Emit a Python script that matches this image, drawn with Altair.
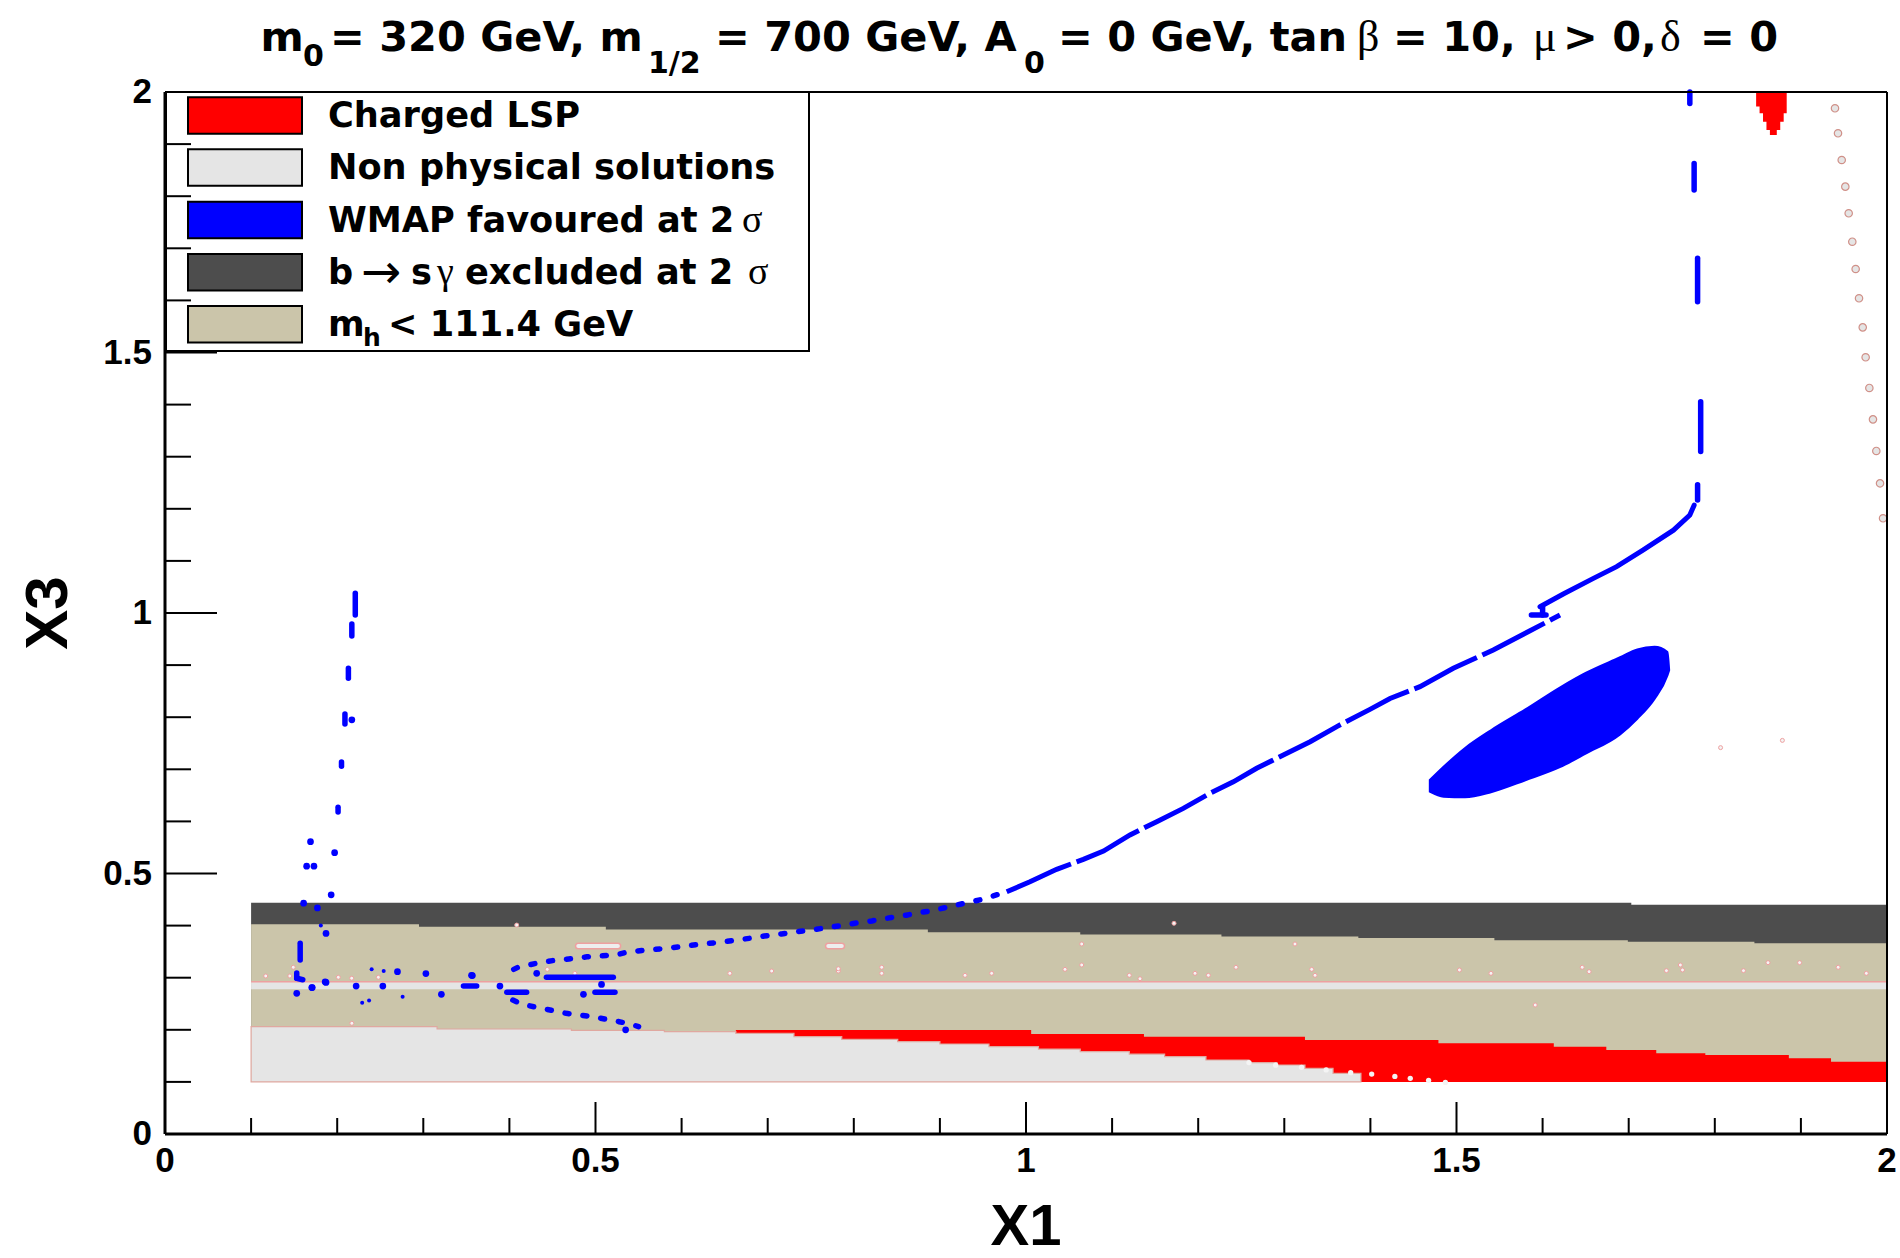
import altair as alt
import pandas as pd

# ---------------- values ----------------
# b -> s gamma excluded band (dark grey): upper edge, step function of X1
bsg_x = [0.1, 1.703, 2.0]
bsg_top = [0.444, 0.440, 0.440]

# m_h < 111.4 GeV band (tan): upper edge
mh_x = [0.1, 0.295, 0.512, 0.886, 1.063, 1.227, 1.386, 1.544, 1.699, 1.846, 2.0]
mh_top = [0.4025, 0.398, 0.3925, 0.387, 0.383, 0.379, 0.376, 0.372, 0.369, 0.366, 0.366]

# lower edge of the tan band (top of charged-LSP / non-physical regions)
low_x = [0.1, 0.316, 0.472, 0.58, 0.663, 1.006, 1.137, 1.324, 1.479, 1.613, 1.674,
         1.732, 1.789, 1.886, 1.935, 2.0]
low_top = [0.206, 0.2015, 0.199, 0.1965, 0.1996, 0.1919, 0.1868, 0.1804, 0.174, 0.1676,
           0.1612, 0.1548, 0.1516, 0.1452, 0.1389, 0.1389]

# non-physical region at the bottom: upper edge
np_x = [0.1, 0.316, 0.472, 0.58, 0.663, 0.7305, 0.786, 0.851, 0.9, 0.957, 1.0145, 1.063,
        1.12, 1.161, 1.209, 1.259, 1.2915, 1.324, 1.3566, 1.389]
np_top = [0.206, 0.2015, 0.199, 0.1965, 0.193, 0.1868, 0.1817, 0.1772, 0.1727, 0.1676,
          0.163, 0.158, 0.1535, 0.1484, 0.142, 0.1369, 0.1324, 0.126, 0.1164, 0.1]

# thin non-physical strip inside the tan band
strip_x = [0.1, 2.0]
strip_lo = [0.2777, 0.2777]
strip_hi = [0.2924, 0.2924]

# charged LSP island at the top
lsp_x = [1.848, 1.852, 1.856, 1.860, 1.864, 1.872, 1.876, 1.880, 1.8835]
lsp_bottom = [1.972, 1.959, 1.943, 1.927, 1.9175, 1.927, 1.943, 1.959, 1.959]

# WMAP: dotted part of the main branch
wA_x = [0.405, 0.41, 0.421, 0.435, 0.451, 0.469, 0.49, 0.525, 0.534, 0.557, 0.581, 0.601,
        0.625, 0.645, 0.662, 0.681, 0.696, 0.716, 0.733, 0.753, 0.768, 0.785, 0.801, 0.821,
        0.847, 0.861, 0.877, 0.89, 0.9195, 0.9505, 0.9776]
wA_y = [0.316, 0.32, 0.324, 0.329, 0.333, 0.336, 0.34, 0.344, 0.348, 0.353, 0.356, 0.36,
        0.365, 0.368, 0.372, 0.376, 0.38, 0.384, 0.388, 0.392, 0.396, 0.40, 0.4045, 0.409,
        0.4165, 0.42, 0.425, 0.4285, 0.4395, 0.451, 0.465]
# WMAP: near-continuous part of the main branch
wB_x = [0.9776, 1.0046, 1.0356, 1.0666, 1.09, 1.1208, 1.1518, 1.1827, 1.2137, 1.2408,
        1.2679, 1.2989, 1.33, 1.361, 1.3995, 1.4228, 1.4576, 1.4963, 1.5427, 1.5854, 1.6202]
wB_y = [0.465, 0.484, 0.508, 0.527, 0.543, 0.574, 0.5995, 0.625, 0.654, 0.676, 0.702,
        0.7275, 0.753, 0.782, 0.815, 0.836, 0.8586, 0.8938, 0.929, 0.966, 0.996]
# WMAP: upper part after the hook
wC_x = [1.597, 1.624, 1.659, 1.686, 1.717, 1.752, 1.771, 1.776]
wC_y = [1.012, 1.0365, 1.0665, 1.089, 1.121, 1.159, 1.188, 1.207]
# WMAP: lower branch on the left
wD_x = [0.404, 0.414, 0.4375, 0.453, 0.466, 0.4815, 0.497, 0.5127, 0.5273, 0.5412, 0.55]
wD_y = [0.257, 0.2495, 0.241, 0.236, 0.2316, 0.2284, 0.2252, 0.22, 0.2156, 0.211, 0.206]
# WMAP: short dashes (start / end)
dash_x1 = [0.221, 0.217, 0.213, 0.209, 0.205, 0.201, 0.157, 0.153, 0.153,
           1.771, 1.776, 1.780, 1.7836, 1.780,
           0.443, 0.4994, 0.397, 0.3466, 1.587, 1.600]
dash_y1 = [0.996, 0.956, 0.875, 0.787, 0.706, 0.618, 0.334, 0.299, 0.299,
           1.978, 1.812, 1.5975, 1.310, 1.217,
           0.3008, 0.272, 0.272, 0.284, 0.996, 0.996]
dash_x2 = [0.221, 0.217, 0.213, 0.209, 0.205, 0.201, 0.157, 0.153, 0.160,
           1.771, 1.776, 1.780, 1.7836, 1.780,
           0.5207, 0.5226, 0.420, 0.362, 1.604, 1.600]
dash_y2 = [1.038, 0.979, 0.894, 0.806, 0.714, 0.627, 0.366, 0.309, 0.296,
           2.0, 1.863, 1.681, 1.4056, 1.246,
           0.3008, 0.272, 0.272, 0.284, 0.996, 1.012]
# WMAP: isolated blobs
blob_x = [0.217, 0.197, 0.169, 0.1645, 0.173, 0.193, 0.161, 0.177, 0.187, 0.171, 0.187,
          0.153, 0.1705, 0.186, 0.222, 0.253, 0.27, 0.303, 0.357, 0.321, 0.389, 0.486,
          0.507, 0.4317, 0.535, 0.356]
blob_y = [0.795, 0.54, 0.561, 0.514, 0.514, 0.459, 0.443, 0.434, 0.385, 0.281, 0.291,
          0.27, 0.281, 0.292, 0.284, 0.284, 0.3115, 0.308, 0.304, 0.268, 0.284, 0.268,
          0.287, 0.3084, 0.2, 0.3046]
small_x = [0.24, 0.254, 0.237, 0.229, 0.276, 0.181]
small_y = [0.316, 0.313, 0.256, 0.252, 0.2636, 0.40]
# WMAP: bulk region (lower / upper edge)
ell_x = [1.469, 1.485, 1.51, 1.54, 1.58, 1.62, 1.65, 1.69, 1.71, 1.73, 1.745, 1.747]
ell_lo = [0.657, 0.6475, 0.6465, 0.656, 0.679, 0.704, 0.73, 0.767, 0.797, 0.835, 0.88, 0.89]
ell_hi = [0.6795, 0.705, 0.741, 0.775, 0.815, 0.857, 0.885, 0.915, 0.93, 0.935, 0.925, 0.89]

# small non-physical islands near the right edge
np_dot_x = [1.9396, 1.9431, 1.9474, 1.9516, 1.9555, 1.9597, 1.9636, 1.9675, 1.9718,
            1.9752, 1.9795, 1.9837, 1.9876, 1.9919, 1.9954]
np_dot_y = [1.9687, 1.9207, 1.8695, 1.8183, 1.7672, 1.7127, 1.6603, 1.604, 1.5483,
            1.4908, 1.4319, 1.3717, 1.311, 1.2489, 1.1818]
# tiny specks
speck_x = [0.8324, 0.8324, 1.0647, 1.0647, 1.0453, 1.1719, 1.1963, 1.2118, 1.2439, 1.3124,
           1.3318, 1.3357, 0.9292, 0.9601, 1.12, 1.1324, 1.76, 1.7625, 1.8618, 1.8985,
           1.9433, 1.976, 1.8333, 1.646, 1.654, 1.7438, 1.5034, 1.54, 1.5914, 0.4085,
           0.444, 0.476, 0.656, 0.7046, 0.782, 0.782, 0.149, 0.117, 0.145, 0.2013,
           0.2168, 0.2478, 0.217, 1.8067, 1.8785]
speck_y = [0.32, 0.3084, 0.3647, 0.3244, 0.316, 0.4044, 0.3084, 0.3046, 0.32, 0.3647,
           0.316, 0.3046, 0.3046, 0.3084, 0.3046, 0.298, 0.3244, 0.3148, 0.3289, 0.3289,
           0.32, 0.3084, 0.3135, 0.32, 0.3116, 0.3135, 0.3148, 0.3084, 0.2476, 0.401,
           0.316, 0.3084, 0.3084, 0.3128, 0.3128, 0.3172, 0.32, 0.3033, 0.3033, 0.3008,
           0.299, 0.3008, 0.2125, 0.7416, 0.7555]
# small non-physical bars
bar_x1 = [0.48, 0.7704]
bar_x2 = [0.526, 0.786]
bar_y = [0.361, 0.361]
# white dots along the non-physical / charged-LSP border
wdot_x = [1.259, 1.290, 1.320, 1.3486, 1.3771, 1.4015, 1.4284, 1.4463, 1.4676, 1.4871]
wdot_y = [0.137, 0.132, 0.128, 0.123, 0.1177, 0.115, 0.1106, 0.1068, 0.103, 0.099]

# axis ticks and labels
x_major = [0, 0.5, 1, 1.5, 2]
x_labels = ["0", "0.5", "1", "1.5", "2"]
x_minor = [0.1, 0.2, 0.3, 0.4, 0.6, 0.7, 0.8, 0.9, 1.1, 1.2, 1.3, 1.4, 1.6, 1.7, 1.8, 1.9]
y_major = [0, 0.5, 1, 1.5, 2]
y_labels = ["0", "0.5", "1", "1.5", "2"]
y_minor = [0.1, 0.2, 0.3, 0.4, 0.6, 0.7, 0.8, 0.9, 1.1, 1.2, 1.3, 1.4, 1.6, 1.7, 1.8, 1.9]
x_title = "X1"
y_title = "X3"

legend_labels = ["Charged LSP", "Non physical solutions", "WMAP favoured at 2 σ",
                 "b → s γ excluded at 2 σ", "m_h < 111.4 GeV"]

# ---------------- styling ----------------
RED = "#ff0000"
LGREY = "#e5e5e5"
BLUE = "#0000ff"
DGREY = "#4d4d4d"
TAN = "#cbc5aa"
PINK = "#eea0a0"
legend_colors = [RED, LGREY, BLUE, DGREY, TAN]

W, H = 1722, 1042
SANS = "DejaVu Sans"
ARIAL = "Liberation Sans"
SERIF = "Liberation Serif"

xs = alt.Scale(domain=[0, 2], nice=False, zero=False)
ys = alt.Scale(domain=[0, 2], nice=False, zero=False)


def X(field="x"):
    return alt.X(f"{field}:Q", scale=xs, axis=None)


def Y(field="y"):
    return alt.Y(f"{field}:Q", scale=ys, axis=None)


layers = []

bsg_df = pd.DataFrame({"x": bsg_x, "top": bsg_top, "base": [0.1] * len(bsg_x)})
layers.append(alt.Chart(bsg_df).mark_area(interpolate="step-after", color=DGREY).encode(
    x=X(), y=Y("top"), y2="base:Q"))

mh_df = pd.DataFrame({"x": mh_x, "top": mh_top, "base": [0.1] * len(mh_x)})
layers.append(alt.Chart(mh_df).mark_area(interpolate="step-after", color=TAN).encode(
    x=X(), y=Y("top"), y2="base:Q"))

red_df = pd.DataFrame({"x": low_x[4:], "top": low_top[4:], "base": [0.1] * len(low_x[4:])})
layers.append(alt.Chart(red_df).mark_area(interpolate="step-after", color=RED).encode(
    x=X(), y=Y("top"), y2="base:Q"))

np_df = pd.DataFrame({"x": np_x, "top": np_top, "base": [0.1] * len(np_x)})
layers.append(alt.Chart(np_df).mark_area(interpolate="step-after", color=LGREY,
                                         stroke="#e0a8a0", strokeWidth=1.2).encode(
    x=X(), y=Y("top"), y2="base:Q"))

strip_df = pd.DataFrame({"x": strip_x, "lo": strip_lo, "hi": strip_hi})
layers.append(alt.Chart(strip_df).mark_area(color=LGREY).encode(
    x=X(), y=Y("lo"), y2="hi:Q"))
layers.append(alt.Chart(strip_df).mark_line(color=PINK, strokeWidth=1.5).encode(
    x=X(), y=Y("hi")))

bar_df = pd.DataFrame({"x": bar_x1, "x2": bar_x2, "y": bar_y})
layers.append(alt.Chart(bar_df).mark_rule(color=PINK, strokeWidth=7, strokeCap="round").encode(
    x=X(), x2="x2:Q", y=Y()))
layers.append(alt.Chart(bar_df).mark_rule(color="#eeeeee", strokeWidth=4, strokeCap="round").encode(
    x=X(), x2="x2:Q", y=Y()))

speck_df = pd.DataFrame({"x": speck_x, "y": speck_y})
layers.append(alt.Chart(speck_df).mark_point(shape="circle", filled=True, fill="#f4f4f4",
                                             stroke=PINK, strokeWidth=1, size=16, opacity=1).encode(
    x=X(), y=Y()))

wdot_df = pd.DataFrame({"x": wdot_x, "y": wdot_y})
layers.append(alt.Chart(wdot_df).mark_point(shape="circle", filled=True, color="#f4f4f4",
                                            size=28, opacity=1).encode(x=X(), y=Y()))

npd_df = pd.DataFrame({"x": np_dot_x, "y": np_dot_y})
layers.append(alt.Chart(npd_df).mark_point(shape="circle", filled=True, fill=LGREY,
                                           stroke="#d09088", strokeWidth=1.2, size=55,
                                           opacity=1).encode(x=X(), y=Y()))

lsp_df = pd.DataFrame({"x": lsp_x, "b": lsp_bottom, "top": [2.0] * len(lsp_x)})
layers.append(alt.Chart(lsp_df).mark_area(interpolate="step-after", color=RED).encode(
    x=X(), y=Y("b"), y2="top:Q"))

# WMAP
ell_df = pd.DataFrame({"x": ell_x, "lo": ell_lo, "hi": ell_hi})
layers.append(alt.Chart(ell_df).mark_area(interpolate="monotone", color=BLUE,
                                          stroke=BLUE, strokeWidth=2).encode(
    x=X(), y=Y("lo"), y2="hi:Q"))

for xv, yv, style in [(wA_x, wA_y, "dot"), (wD_x, wD_y, "dot"), (wB_x, wB_y, "solid"),
                      (wC_x, wC_y, "full")]:
    df = pd.DataFrame({"x": xv, "y": yv, "i": list(range(len(xv)))})
    if style == "dot":
        mk = alt.Chart(df).mark_line(color=BLUE, strokeWidth=5.5, strokeDash=[4, 14],
                                     strokeCap="round")
    elif style == "solid":
        mk = alt.Chart(df).mark_line(color=BLUE, strokeWidth=5, strokeDash=[70, 6])
    else:
        mk = alt.Chart(df).mark_line(color=BLUE, strokeWidth=5, strokeCap="round")
    layers.append(mk.encode(x=X(), y=Y(), order="i:Q"))

dash_df = pd.DataFrame({"x": dash_x1, "y": dash_y1, "x2": dash_x2, "y2": dash_y2})
layers.append(alt.Chart(dash_df).mark_rule(color=BLUE, strokeWidth=5.5, strokeCap="round").encode(
    x=X(), y=Y(), x2="x2:Q", y2="y2:Q"))

blob_df = pd.DataFrame({"x": blob_x, "y": blob_y})
layers.append(alt.Chart(blob_df).mark_point(shape="circle", filled=True, color=BLUE,
                                            size=45, opacity=1).encode(x=X(), y=Y()))
small_df = pd.DataFrame({"x": small_x, "y": small_y})
layers.append(alt.Chart(small_df).mark_point(shape="circle", filled=True, color=BLUE,
                                             size=16, opacity=1).encode(x=X(), y=Y()))

one = pd.DataFrame({"k": [0]})


def txt(s, x, y, size, font=SANS, weight="bold", align="left", baseline="alphabetic", angle=0):
    return alt.Chart(one).mark_text(text=s, align=align, baseline=baseline, font=font,
                                    fontSize=size, fontWeight=weight, color="black",
                                    angle=angle).encode(x=alt.value(x), y=alt.value(y))


# legend
layers.append(alt.Chart(one).mark_rect(fill="white", stroke="black", strokeWidth=2).encode(
    x=alt.value(1), x2=alt.value(644), y=alt.value(0), y2=alt.value(259)))
sw_top = [5.3, 57.3, 109.7, 162, 214]
base = [34.7, 87, 139.7, 192, 244]
for i, col in enumerate(legend_colors):
    layers.append(alt.Chart(one).mark_rect(fill=col, stroke="black", strokeWidth=2).encode(
        x=alt.value(23), x2=alt.value(137), y=alt.value(sw_top[i]), y2=alt.value(sw_top[i] + 36.5)))

LF = 35.2
layers.append(txt(legend_labels[0], 163, base[0], LF))
layers.append(txt(legend_labels[1], 163, base[1], LF))
layers.append(txt("WMAP favoured at 2", 163, base[2], LF))
layers.append(txt("σ", 577, base[2], 38, SERIF, "normal"))
layers.append(txt("b", 163, base[3], LF))
layers.append(txt("→", 196, base[3] + 4, 48, SANS, "normal"))
layers.append(txt("s", 246, base[3], LF))
layers.append(txt("γ", 272, base[3], 38, SERIF, "normal"))
layers.append(txt("excluded at 2", 300, base[3], LF))
layers.append(txt("σ", 583, base[3], 38, SERIF, "normal"))
layers.append(txt("m", 163, base[4], LF))
layers.append(txt("h", 198, base[4] + 10, 25))
layers.append(txt("< 111.4 GeV", 223, base[4], LF))

# axis lines, ticks (inward) and labels
layers.append(alt.Chart(one).mark_rule(color="black", strokeWidth=3).encode(
    x=alt.value(0), y=alt.value(0), y2=alt.value(H)))
layers.append(alt.Chart(one).mark_rule(color="black", strokeWidth=3).encode(
    x=alt.value(0), x2=alt.value(W), y=alt.value(H)))
layers.append(alt.Chart(one).mark_rule(color="black", strokeWidth=2).encode(
    x=alt.value(0), x2=alt.value(W), y=alt.value(0)))
layers.append(alt.Chart(one).mark_rule(color="black", strokeWidth=2).encode(
    x=alt.value(W), y=alt.value(0), y2=alt.value(H)))

for vals, L in [(x_major, 32), (x_minor, 16)]:
    df = pd.DataFrame({"v": vals})
    layers.append(alt.Chart(df).mark_rule(color="black", strokeWidth=2).encode(
        x=X("v"), y=alt.value(H), y2=alt.value(H - L)))
for vals, L in [(y_major, 52), (y_minor, 26)]:
    df = pd.DataFrame({"v": vals})
    layers.append(alt.Chart(df).mark_rule(color="black", strokeWidth=2).encode(
        y=Y("v"), x=alt.value(0), x2=alt.value(L)))

xl_df = pd.DataFrame({"v": x_major, "lab": x_labels})
layers.append(alt.Chart(xl_df).mark_text(align="center", baseline="top", font=ARIAL,
                                         fontSize=35, fontWeight="bold", color="black").encode(
    x=X("v"), y=alt.value(H + 10), text="lab:N"))
yl_df = pd.DataFrame({"v": y_major, "lab": y_labels})
layers.append(alt.Chart(yl_df).mark_text(align="right", baseline="middle", font=ARIAL,
                                         fontSize=35, fontWeight="bold", color="black").encode(
    y=Y("v"), x=alt.value(-13), text="lab:N"))
layers.append(txt(x_title, W / 2, H + 111, 58, ARIAL, "bold", align="center"))
layers.append(txt(y_title, -98, H / 2, 60, ARIAL, "bold", align="center", angle=270))

# title
TF, TY = 41.5, -41
for s, x in [("m", 95.5), ("= 320 GeV, m", 165), ("= 700 GeV, A", 550),
             ("= 0 GeV, tan", 893), ("= 10,", 1228), ("> 0,", 1398), ("= 0", 1535)]:
    layers.append(txt(s, x, TY, TF))
for s, x, y in [("0", 138, -26), ("1/2", 483, -19), ("0", 859, -19)]:
    layers.append(txt(s, x, y, 30))
for s, x in [("β", 1192), ("μ", 1368), ("δ", 1495)]:
    layers.append(txt(s, x, TY, 44, SERIF, "normal"))

chart = alt.layer(*layers).properties(
    width=W, height=H,
    autosize=alt.AutoSizeParams(type="none"),
    padding={"left": 165, "top": 92, "right": 13, "bottom": 124},
    background="white",
).configure_view(stroke=None)

chart.save("out.html", embed_options={"renderer": "svg", "actions": False})
